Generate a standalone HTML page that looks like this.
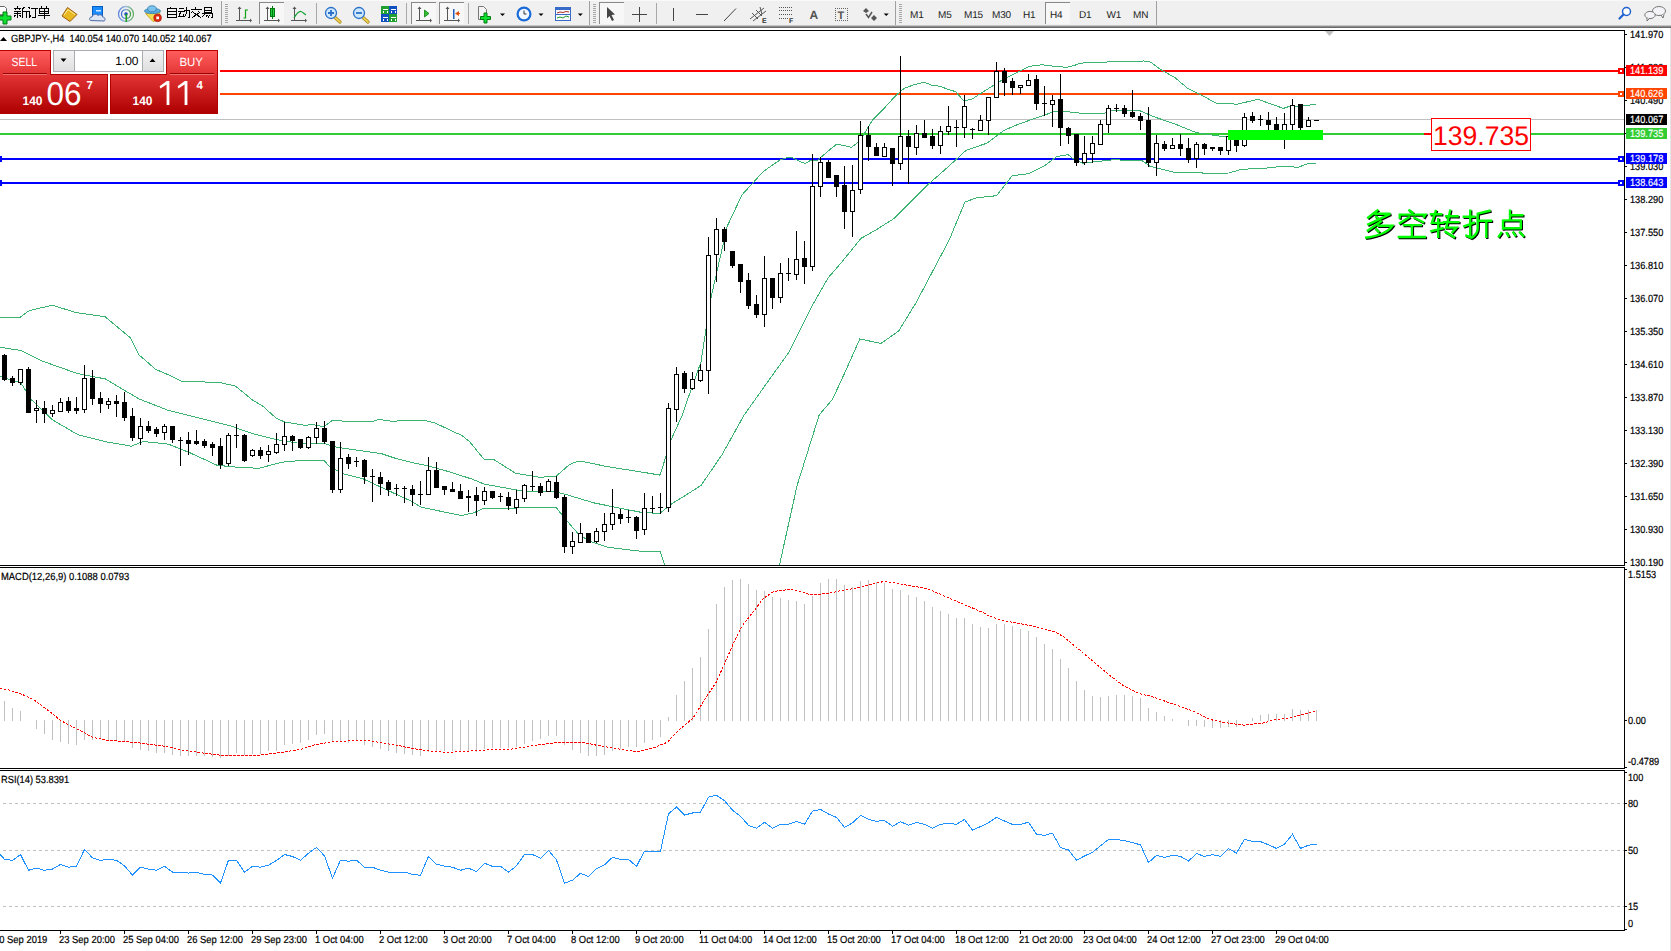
<!DOCTYPE html>
<html><head><meta charset="utf-8"><title>GBPJPY H4</title>
<style>
html,body{margin:0;padding:0;background:#fff;overflow:hidden;}
body{width:1671px;height:951px;position:relative;font-family:"Liberation Sans", sans-serif;}
svg{position:absolute;left:0;top:0;display:block;}
text{font-family:"Liberation Sans", sans-serif;text-rendering:geometricPrecision;}
</style></head><body>
<svg width="1671" height="951" viewBox="0 0 1671 951">
<rect x="0" y="0" width="1671" height="951" fill="#ffffff"/>

<g id="toolbar">
<rect x="0" y="0" width="1671" height="25" fill="#f0f0f0"/>
<rect x="0" y="0" width="1671" height="1" fill="#f9f9f9"/>
<rect x="0" y="25" width="1671" height="1" fill="#c4c4c4"/>
<rect x="0" y="26" width="1671" height="1" fill="#8c8c8c"/>
<rect x="0" y="27" width="1671" height="1" fill="#6a6a6a"/>
<g id="tbicons">
<!-- new order -->
<path d="M-1,6.5 H4.5 L6.5,8.5 V15.5 H-1 Z" fill="#fff" stroke="#666" stroke-width="1"/>
<rect x="0" y="14" width="3" height="1" fill="#888"/>
<path d="M3,12 H7 V16 H11 V20 H7 V24 H3 V20 H-1 V16 H3 Z" fill="#10e030" stroke="#007a10" stroke-width="1"/>
<!-- 新订单 -->
<g stroke="#000" stroke-width="1" fill="none" shape-rendering="crispEdges">
<path d="M17.5,6 V8 M14,8.5 H21 M15.5,9 V10 M19.5,9 V10 M14,11.5 H21 M14,13.5 H21 M17.5,11 V18 M15.5,15 L14,17 M19.5,15 L21,17"/>
<path d="M25,7.5 L22,8.5 M22.5,8.5 V18 M22.5,11.5 H28.5 M26.5,11.5 V18"/>
<path d="M28.5,7 L30,8.5 M29.5,10.5 V17 L31,15.5 M31,8.5 H38 M35.5,8.5 V17.5 H32"/>
<path d="M41,6 L42,7.5 M47,6 L46,7.5 M39.5,8.5 H48.5 V13.5 H39.5 Z M39.5,11 H48.5 M44,8.5 V18.5 M38,15.5 H50"/>
</g>
<!-- book -->
<path d="M62,16 L67.5,7.5 L77,14.5 L70,21.5 Z" fill="#e8b820" stroke="#9a5a10" stroke-width="1"/>
<path d="M64,15 L68,9.5 L75,14.5" fill="none" stroke="#fff2a0" stroke-width="1"/>
<!-- cloud box -->
<rect x="92.5" y="6.5" width="10" height="9" fill="#1a8cff" stroke="#0060c0" stroke-width="1"/>
<rect x="96" y="10" width="5" height="1.5" fill="#cfe8ff"/>
<path d="M90.5,20.5 C89,20 89.5,16.5 92,17 C92.5,14 96.5,13.5 98,15.5 C99.5,14 103,15 102.5,17 C105,16.5 106,20.5 104,21 Z" fill="#dde5f2" stroke="#4a6aa8" stroke-width="1"/>
<!-- signal -->
<defs><linearGradient id="gSig" x1="0" y1="0" x2="1" y2="0"><stop offset="0" stop-color="#3a6ad8"/><stop offset="0.5" stop-color="#8fb0d8"/><stop offset="1" stop-color="#40a040"/></linearGradient></defs>
<circle cx="126" cy="14" r="7.5" fill="none" stroke="url(#gSig)" stroke-width="1.3" opacity="0.8"/>
<circle cx="126" cy="14" r="4.5" fill="none" stroke="url(#gSig)" stroke-width="1.3"/>
<circle cx="126" cy="14" r="1.8" fill="#2050c0"/>
<rect x="125.5" y="14" width="1.6" height="8" fill="#20a020"/>
<!-- auto trading -->
<path d="M145.5,13.5 L160,12.5 L158,20 L153,21.5 Z" fill="#f2dc50" stroke="#c8a020" stroke-width="0.9"/>
<ellipse cx="152.5" cy="11" rx="8" ry="2.6" fill="#5aaee0" stroke="#3a84b8" stroke-width="0.9"/>
<ellipse cx="152" cy="8.8" rx="4.3" ry="3" fill="#7cc4ec" stroke="#3a84b8" stroke-width="0.9"/>
<circle cx="157.6" cy="17.8" r="3.9" fill="#dd2a10" stroke="#a01808" stroke-width="0.6"/>
<rect x="156.3" y="16.5" width="2.7" height="2.7" fill="#fff"/>
<!-- 自动交易 -->
<g stroke="#000" stroke-width="1" fill="none" shape-rendering="crispEdges">
<path d="M170.5,6.5 V8 M167.5,8.5 H176.5 V17.5 H167.5 Z M167.5,11.5 H176.5 M167.5,14.5 H176.5"/>
<path d="M179,8.5 H184 M178,11.5 H184.5 M180.5,12 L179,16.5 H184 M183,14.5 L184,16 M184,10.5 H189.5 V17.5 H188 M186.5,7 V13 L184.5,17.5"/>
<path d="M195.5,6.5 V8.5 M190.5,9.5 H201.5 M193,11 L191.5,13 M198,11 L200,13 M192,17.5 L200,12.5 M193,12.5 L201,17.5"/>
<path d="M204,7.5 H211 V12.5 H204 Z M204,10 H211 M202,13.5 H212.5 V17.5 H211 M204.5,14 L202.5,17 M207.5,15 L205.5,17.5 M210,15 L208,17.5"/>
</g>
<!-- separators & grips -->
<g shape-rendering="crispEdges">
<rect x="221" y="1" width="1" height="24" fill="#a0a0a0"/>
<rect x="406" y="3" width="1" height="21" fill="#a8a8a8"/>
<rect x="316" y="3" width="1" height="21" fill="#a8a8a8"/>
<rect x="468" y="3" width="1" height="21" fill="#a8a8a8"/>
<rect x="589" y="1" width="1" height="24" fill="#a0a0a0"/>
<rect x="656" y="3" width="1" height="21" fill="#a8a8a8"/>
<rect x="895" y="1" width="1" height="24" fill="#a0a0a0"/>
<rect x="1156" y="1" width="1" height="24" fill="#a0a0a0"/>
</g>
<g fill="#a8a8a8" shape-rendering="crispEdges">
<path d="M225,4h3v1h-3zM225,6h3v1h-3zM225,8h3v1h-3zM225,10h3v1h-3zM225,12h3v1h-3zM225,14h3v1h-3zM225,16h3v1h-3zM225,18h3v1h-3zM225,20h3v1h-3zM225,22h3v1h-3z"/>
<path d="M593,4h3v1h-3zM593,6h3v1h-3zM593,8h3v1h-3zM593,10h3v1h-3zM593,12h3v1h-3zM593,14h3v1h-3zM593,16h3v1h-3zM593,18h3v1h-3zM593,20h3v1h-3zM593,22h3v1h-3z"/>
<path d="M899,4h3v1h-3zM899,6h3v1h-3zM899,8h3v1h-3zM899,10h3v1h-3zM899,12h3v1h-3zM899,14h3v1h-3zM899,16h3v1h-3zM899,18h3v1h-3zM899,20h3v1h-3zM899,22h3v1h-3z"/>
</g>
<!-- pressed buttons -->
<g shape-rendering="crispEdges">
<rect x="259" y="2" width="25" height="22" fill="#f7f7f7"/><rect x="259" y="2" width="25" height="1" fill="#8a8a8a"/><rect x="259" y="2" width="1" height="22" fill="#8a8a8a"/>
<rect x="411" y="2" width="25" height="22" fill="#f7f7f7"/><rect x="411" y="2" width="25" height="1" fill="#8a8a8a"/><rect x="411" y="2" width="1" height="22" fill="#8a8a8a"/>
<rect x="439" y="2" width="25" height="22" fill="#f7f7f7"/><rect x="439" y="2" width="25" height="1" fill="#8a8a8a"/><rect x="439" y="2" width="1" height="22" fill="#8a8a8a"/>
<rect x="599" y="2" width="25" height="22" fill="#f7f7f7"/><rect x="599" y="2" width="25" height="1" fill="#8a8a8a"/><rect x="599" y="2" width="1" height="22" fill="#8a8a8a"/>
<rect x="1045" y="2" width="25" height="22" fill="#f7f7f7"/><rect x="1045" y="2" width="25" height="1" fill="#8a8a8a"/><rect x="1045" y="2" width="1" height="22" fill="#8a8a8a"/>
</g>
<!-- chart type icons -->
<g fill="none" stroke="#555" stroke-width="1" shape-rendering="crispEdges">
<path d="M239.5,8 V21 M236,20.5 H251 M294.5,8 V21 M291,20.5 H306 M267.5,8 V21 M264,20.5 H279"/>
<path d="M419.5,8 V21 M416,20.5 H431 M447.5,8 V21 M444,20.5 H459"/>
</g>
<g fill="#555"><path d="M237.5,9 L239.5,6.5 L241.5,9Z M250,18.5 L252,20.5 L250,22.5Z M265.5,9 L267.5,6.5 L269.5,9Z M278,18.5 L280,20.5 L278,22.5Z M292.5,9 L294.5,6.5 L296.5,9Z M305,18.5 L307,20.5 L305,22.5Z M417.5,9 L419.5,6.5 L421.5,9Z M430,18.5 L432,20.5 L430,22.5Z M445.5,9 L447.5,6.5 L449.5,9Z M458,18.5 L460,20.5 L458,22.5Z"/></g>
<path d="M243.5,18 H245.5 V10 H248" fill="none" stroke="#10a010" stroke-width="1.2"/>
<rect x="270.5" y="8.5" width="4" height="8" fill="#20d040" stroke="#007a10" stroke-width="1"/>
<rect x="272" y="6" width="1" height="13" fill="#007a10"/>
<path d="M294,18 C297,13 299,11 301,11.5 C303,12 304,14 306,15" fill="none" stroke="#10a030" stroke-width="1.2"/>
<path d="M424.5,10 L429,13.5 L424.5,17 Z" fill="#30c030" stroke="#108010" stroke-width="0.8"/>
<rect x="453" y="9" width="1.5" height="10" fill="#2060c0"/>
<path d="M455,13.5 L459,11 V16 Z M457,13 H460 V14 H457Z" fill="#e05010"/>
<!-- zoom in/out -->
<g>
<path d="M335,17.5 L340,22" stroke="#a08010" stroke-width="3.2" stroke-linecap="round"/>
<path d="M335,17.5 L340,22" stroke="#f0d050" stroke-width="1.8" stroke-linecap="round"/>
<circle cx="331" cy="13" r="5.5" fill="#cfe8ff" stroke="#2a70c8" stroke-width="1.3"/>
<path d="M328,13 H334 M331,10 V16" stroke="#2a70c8" stroke-width="1.8"/>
<path d="M363,17.5 L368,22" stroke="#a08010" stroke-width="3.2" stroke-linecap="round"/>
<path d="M363,17.5 L368,22" stroke="#f0d050" stroke-width="1.8" stroke-linecap="round"/>
<circle cx="359" cy="13" r="5.5" fill="#cfe8ff" stroke="#2a70c8" stroke-width="1.3"/>
<path d="M356,13 H362" stroke="#2a70c8" stroke-width="1.8"/>
</g>
<!-- tile -->
<g shape-rendering="crispEdges">
<rect x="381" y="6" width="8" height="8" fill="#20a030"/><rect x="389" y="6" width="8" height="8" fill="#1050c0"/>
<rect x="381" y="14" width="8" height="8" fill="#1050c0"/><rect x="389" y="14" width="8" height="8" fill="#20a030"/>
<path d="M383,9h5v1h-5zM383,11h1v2h-1zM387,11h1v2h-1zM391,9h5v1h-5zM391,11h1v2h-1zM395,11h1v2h-1zM383,17h5v1h-5zM383,19h1v2h-1zM387,19h1v2h-1zM391,17h5v1h-5zM391,19h1v2h-1zM395,19h1v2h-1z" fill="#fff"/>
</g>
<!-- indicators icon -->
<path d="M478.5,6.5 H483.5 L486.5,9.5 V19.5 H478.5 Z" fill="#f4f4f4" stroke="#777" stroke-width="1"/>
<path d="M484,13 H487 V16.5 H490.5 V19.5 H487 V23 H484 V19.5 H480.5 V16.5 H484 Z" fill="#10e030" stroke="#007a10" stroke-width="1"/>
<polygon points="500,13.5 505,13.5 502.5,16" fill="#000"/>
<!-- clock -->
<circle cx="524" cy="14" r="7.5" fill="#1a6ad8"/>
<circle cx="524" cy="14" r="5.3" fill="#f4f8ff"/>
<path d="M524,10.5 V14 H526.5" fill="none" stroke="#333" stroke-width="1"/>
<polygon points="538.5,13.5 543.5,13.5 541,16" fill="#000"/>
<!-- template -->
<rect x="555.5" y="7.5" width="15" height="13" fill="#f8f8ff" stroke="#3a6ac8" stroke-width="1"/>
<rect x="556" y="8" width="14" height="2" fill="#3a6ac8"/>
<rect x="556" y="14" width="14" height="1" fill="#3a6ac8"/>
<path d="M557,13 L560,12 L563,12.5 L566,11.5 L569,12" fill="none" stroke="#b03020" stroke-width="1"/>
<path d="M557,18 L560,17 L563,18 L566,16 L569,17" fill="none" stroke="#20a020" stroke-width="1"/>
<polygon points="577.8,13.5 582.8,13.5 580.3,16" fill="#000"/>
<!-- cursor -->
<path d="M607,7 L615,14.5 L611.5,15 L614,20 L612,21 L609.5,16 L607,18.5 Z" fill="#444"/>
<!-- crosshair -->
<path d="M632,14.5 H647 M639.5,7 V22" stroke="#444" stroke-width="1" shape-rendering="crispEdges"/>
<!-- lines -->
<rect x="673" y="8" width="1" height="13" fill="#444" shape-rendering="crispEdges"/>
<rect x="696" y="14" width="12" height="1" fill="#444" shape-rendering="crispEdges"/>
<path d="M724,21 L736,8.5" stroke="#444" stroke-width="1"/>
<path d="M750,19 L764,8 M753,21 L766,11 M752,13 L758,19 M756,10 L762,16 M760,7 L762,14" stroke="#555" stroke-width="1" fill="none"/>
<text x="762" y="23" font-size="7" font-weight="bold" fill="#333">E</text>
<g fill="#555" shape-rendering="crispEdges">
<path d="M779,7h1v1h-1zM781,7h1v1h-1zM783,7h1v1h-1zM785,7h1v1h-1zM787,7h1v1h-1zM789,7h1v1h-1zM791,7h1v1h-1zM779,10h1v1h-1zM781,10h1v1h-1zM783,10h1v1h-1zM785,10h1v1h-1zM787,10h1v1h-1zM789,10h1v1h-1zM791,10h1v1h-1zM779,14h1v1h-1zM781,14h1v1h-1zM783,14h1v1h-1zM785,14h1v1h-1zM787,14h1v1h-1zM789,14h1v1h-1zM791,14h1v1h-1zM779,18h1v1h-1zM781,18h1v1h-1zM783,18h1v1h-1zM785,18h1v1h-1zM787,18h1v1h-1z"/>
</g>
<text x="789" y="23" font-size="7" font-weight="bold" fill="#333">F</text>
<text x="809.5" y="19" font-size="12" font-weight="bold" fill="#555">A</text>
<g fill="#666" shape-rendering="crispEdges">
<path d="M835,8h1v1h-1zM837,8h1v1h-1zM839,8h1v1h-1zM841,8h1v1h-1zM843,8h1v1h-1zM845,8h1v1h-1zM847,8h1v1h-1zM835,20h1v1h-1zM837,20h1v1h-1zM839,20h1v1h-1zM841,20h1v1h-1zM843,20h1v1h-1zM845,20h1v1h-1zM847,20h1v1h-1zM835,10h1v1h-1zM835,12h1v1h-1zM835,14h1v1h-1zM835,16h1v1h-1zM835,18h1v1h-1zM847,10h1v1h-1zM847,12h1v1h-1zM847,14h1v1h-1zM847,16h1v1h-1zM847,18h1v1h-1z"/>
</g>
<text x="837.5" y="18.5" font-size="11" font-weight="bold" fill="#555">T</text>
<path d="M863,11 L866,8 L869,11 L866,13 Z M871,18 L874,15 L877,18 L874,21 Z" fill="#555"/>
<path d="M866,14 L868.5,17.5 L872,12" stroke="#555" stroke-width="1.5" fill="none"/>
<polygon points="883.7,13.5 888.8,13.5 886.2,16" fill="#000"/>
</g>
<g font-size="10" fill="#222" letter-spacing="-0.2">
<text x="910" y="18">M1</text>
<text x="938" y="18">M5</text>
<text x="964" y="18">M15</text>
<text x="992" y="18">M30</text>
<text x="1023" y="18">H1</text>
<text x="1050" y="18">H4</text>
<text x="1079" y="18">D1</text>
<text x="1106.5" y="18">W1</text>
<text x="1133" y="18">MN</text>
</g>
<!-- search and chat -->
<circle cx="1626.5" cy="11.5" r="4" fill="#fff" stroke="#2060d0" stroke-width="1.5"/>
<path d="M1623.5,14.5 L1619.5,18.5" stroke="#2060d0" stroke-width="2.2" stroke-linecap="round"/>
<ellipse cx="1659" cy="11" rx="6.5" ry="4.5" fill="#f4f4f8" stroke="#777" stroke-width="1"/>
<path d="M1661,15 L1663,18 L1664,14.5" fill="#f4f4f8" stroke="#555" stroke-width="0.8"/>
<ellipse cx="1650" cy="15" rx="5.2" ry="3.6" fill="#f4f4f8" stroke="#777" stroke-width="1"/>
<path d="M1647,18 L1647,21 L1649.5,18.5" fill="#f4f4f8" stroke="#555" stroke-width="0.8"/>

</g>
<rect x="1670" y="28" width="1" height="923" fill="#e4e4e4"/>
<defs><clipPath id="cm"><rect x="0" y="31" width="1624" height="534"/></clipPath><clipPath id="cmacd"><rect x="0" y="568" width="1624" height="200"/></clipPath><clipPath id="crsi"><rect x="0" y="771" width="1624" height="159"/></clipPath></defs>
<g shape-rendering="crispEdges" fill="#000">
<rect x="0" y="30" width="1625" height="1"/>
<rect x="0" y="565" width="1625" height="1"/>
<rect x="1624" y="30" width="1" height="536"/>
<rect x="0" y="567" width="1625" height="1"/>
<rect x="0" y="768" width="1625" height="1"/>
<rect x="1624" y="567" width="1" height="202"/>
<rect x="0" y="770" width="1625" height="1"/>
<rect x="0" y="930" width="1625" height="1"/>
<rect x="1624" y="770" width="1" height="161"/>
</g>
<g clip-path="url(#cm)">
<g shape-rendering="crispEdges">
<rect x="220" y="70" width="1404" height="2" fill="#ff0000"/>
<rect x="220" y="93" width="1404" height="2" fill="#ff4500"/>
<rect x="0" y="119" width="1624" height="1" fill="#c0c0c0"/>
<rect x="0" y="133" width="1624" height="2" fill="#32cd32"/>
<rect x="0" y="158" width="1624" height="2" fill="#0000ff"/>
<rect x="0" y="182" width="1624" height="2" fill="#0000ff"/>
</g>
<g shape-rendering="crispEdges">
<rect x="1618" y="68" width="6" height="6" fill="#ff0000"/><rect x="1620" y="70" width="2" height="2" fill="#fff"/>
<rect x="1618" y="91" width="6" height="6" fill="#ff4500"/><rect x="1620" y="93" width="2" height="2" fill="#fff"/>
<rect x="1618" y="156" width="6" height="6" fill="#0000ff"/><rect x="1620" y="158" width="2" height="2" fill="#fff"/>
<rect x="-3" y="156" width="5" height="6" fill="#0000ff"/>
<rect x="1618" y="180" width="6" height="6" fill="#0000ff"/><rect x="1620" y="182" width="2" height="2" fill="#fff"/>
<rect x="-3" y="180" width="5" height="6" fill="#0000ff"/>
</g>
<g fill="none" stroke="#3cb371" stroke-width="1" shape-rendering="crispEdges">
<polyline points="-4.0,317.4 0.0,317.4 20.0,317.4 29.4,310.5 52.6,305.2 75.7,312.6 105.2,316.8 130.4,337.8 138.8,354.7 155.7,369.4 170.4,375.7 180.9,381.0 220.9,382.7 235.6,386.2 252.4,399.9 262.9,406.2 276.5,418.5 285.0,422.0 305.0,425.3 313.0,424.6 324.0,426.7 332.5,420.2 351.7,421.9 373.6,421.2 379.6,419.2 385.3,420.5 393.9,421.4 400.7,420.5 424.6,420.5 435.1,423.0 454.3,432.1 462.0,435.5 469.6,441.7 484.0,459.2 493.6,459.4 515.6,473.3 539.0,477.2 555.7,476.6 569.4,464.6 577.6,461.2 583.0,461.6 607.7,466.7 642.0,472.1 660.0,475.1 665.2,458.7 671.5,438.8 682.0,415.7 690.4,391.5 701.0,362.0 710.5,299.9 727.3,226.0 742.1,194.7 754.7,181.0 763.1,171.6 779.9,160.0 788.3,157.2 792.6,157.9 798.9,161.0 805.2,163.6 809.4,161.0 817.8,160.0 830.0,149.5 836.8,144.1 851.6,147.3 860.0,141.0 872.6,119.9 883.1,109.4 895.7,95.7 904.1,88.4 912.6,85.2 924.1,82.1 931.5,85.2 939.9,86.3 950.0,90.1 955.5,91.5 963.9,101.0 972.3,98.9 987.1,89.4 1003.9,78.9 1018.6,71.6 1029.1,66.3 1041.8,64.8 1054.4,66.3 1067.0,67.3 1075.0,65.2 1080.5,63.1 1103.7,62.1 1143.6,61.0 1149.9,61.7 1160.5,69.4 1175.2,77.9 1187.8,88.4 1196.2,92.6 1201.3,95.1 1216.0,103.1 1237.1,104.2 1258.1,99.3 1283.3,108.4 1289.7,106.3 1300.2,106.3 1316.0,104.2"/>
<polyline points="-4.0,346.5 0.0,347.3 21.0,350.5 42.0,361.0 77.8,373.6 105.2,378.9 138.8,398.8 168.3,410.4 210.3,420.9 231.4,426.2 252.4,433.6 276.5,439.6 297.0,443.0 324.0,443.5 336.7,447.2 365.0,451.3 381.5,453.7 395.9,458.5 413.1,462.8 427.5,465.7 451.4,472.4 473.4,479.6 483.8,484.0 514.0,489.5 528.4,491.7 553.0,491.3 566.7,494.7 594.0,502.9 621.4,508.4 642.0,512.5 660.0,513.4 671.5,503.9 682.0,497.6 701.0,485.5 722.1,454.6 744.2,414.9 766.2,384.0 788.3,353.1 810.4,308.9 828.0,278.0 841.3,262.6 861.1,238.3 876.6,229.5 894.3,218.4 911.9,200.8 929.6,183.1 947.2,167.7 966.0,150.4 987.1,143.1 1003.9,130.4 1018.6,124.1 1039.7,116.8 1054.4,111.5 1062.8,111.1 1075.0,112.6 1080.5,113.2 1103.7,113.6 1112.1,110.5 1139.4,110.5 1154.1,116.8 1175.2,124.1 1196.2,132.6 1216.0,135.7 1245.0,138.4 1280.0,137.0 1316.0,134.0"/>
<polyline points="-4.0,374.0 0.0,376.3 21.0,383.1 31.6,399.9 52.6,419.9 77.8,434.6 107.3,442.0 131.5,446.2 143.0,441.5 168.3,444.1 189.3,452.5 216.7,465.1 231.4,466.8 258.7,468.3 282.0,462.2 304.0,460.2 324.0,460.2 329.8,467.0 343.5,473.8 362.6,478.6 386.0,489.5 411.0,501.1 421.0,507.2 458.0,514.8 462.0,515.4 474.0,512.7 484.0,508.2 514.0,508.2 525.7,507.0 555.7,507.0 566.7,520.7 577.6,533.0 588.6,540.9 607.7,547.3 642.0,551.4 660.0,551.2 668.0,575.0 720.0,640.0 770.0,590.0 779.5,565.0 797.1,485.5 819.2,414.9 832.5,399.4 845.7,370.8 859.8,339.0 881.0,343.4 898.7,331.0 916.3,302.3 938.4,260.4 949.2,240.0 965.0,202.0 976.6,197.8 996.5,195.7 1012.3,175.7 1029.1,173.6 1043.9,166.2 1056.5,156.7 1068.0,154.6 1073.3,158.8 1082.6,163.1 1112.1,159.9 1141.5,160.3 1149.9,166.2 1175.2,172.5 1200.0,172.5 1205.5,173.6 1228.7,173.0 1241.3,169.4 1268.6,167.9 1283.3,166.2 1298.1,167.3 1306.5,164.1 1316.0,163.0"/>
</g>
<g shape-rendering="crispEdges">
<rect x="4" y="354" width="1" height="27" fill="#000"/>
<rect x="2" y="355" width="5" height="25" fill="#000"/>
<rect x="12" y="376" width="1" height="10" fill="#000"/>
<rect x="10" y="378" width="5" height="5" fill="#000"/>
<rect x="20" y="369" width="1" height="16" fill="#000"/>
<rect x="18" y="369" width="5" height="14" fill="#000"/>
<rect x="19" y="370" width="3" height="12" fill="#fff"/>
<rect x="28" y="367" width="1" height="46" fill="#000"/>
<rect x="26" y="369" width="5" height="44" fill="#000"/>
<rect x="36" y="400" width="1" height="23" fill="#000"/>
<rect x="34" y="408" width="5" height="3" fill="#000"/>
<rect x="35" y="409" width="3" height="1" fill="#fff"/>
<rect x="44" y="401" width="1" height="22" fill="#000"/>
<rect x="42" y="408" width="5" height="6" fill="#000"/>
<rect x="52" y="405" width="1" height="12" fill="#000"/>
<rect x="50" y="410" width="5" height="4" fill="#000"/>
<rect x="51" y="411" width="3" height="2" fill="#fff"/>
<rect x="60" y="398" width="1" height="14" fill="#000"/>
<rect x="58" y="402" width="5" height="10" fill="#000"/>
<rect x="59" y="403" width="3" height="8" fill="#fff"/>
<rect x="68" y="397" width="1" height="16" fill="#000"/>
<rect x="66" y="401" width="5" height="10" fill="#000"/>
<rect x="76" y="397" width="1" height="17" fill="#000"/>
<rect x="74" y="408" width="5" height="3" fill="#000"/>
<rect x="84" y="365" width="1" height="48" fill="#000"/>
<rect x="82" y="378" width="5" height="32" fill="#000"/>
<rect x="83" y="379" width="3" height="30" fill="#fff"/>
<rect x="92" y="370" width="1" height="35" fill="#000"/>
<rect x="90" y="378" width="5" height="21" fill="#000"/>
<rect x="100" y="392" width="1" height="21" fill="#000"/>
<rect x="98" y="398" width="5" height="6" fill="#000"/>
<rect x="108" y="398" width="1" height="11" fill="#000"/>
<rect x="106" y="401" width="5" height="4" fill="#000"/>
<rect x="107" y="402" width="3" height="2" fill="#fff"/>
<rect x="116" y="395" width="1" height="22" fill="#000"/>
<rect x="114" y="401" width="5" height="3" fill="#000"/>
<rect x="124" y="392" width="1" height="29" fill="#000"/>
<rect x="122" y="402" width="5" height="16" fill="#000"/>
<rect x="132" y="408" width="1" height="33" fill="#000"/>
<rect x="130" y="416" width="5" height="22" fill="#000"/>
<rect x="140" y="418" width="1" height="27" fill="#000"/>
<rect x="138" y="426" width="5" height="13" fill="#000"/>
<rect x="139" y="427" width="3" height="11" fill="#fff"/>
<rect x="148" y="421" width="1" height="12" fill="#000"/>
<rect x="146" y="426" width="5" height="5" fill="#000"/>
<rect x="156" y="427" width="1" height="10" fill="#000"/>
<rect x="154" y="429" width="5" height="5" fill="#000"/>
<rect x="164" y="424" width="1" height="16" fill="#000"/>
<rect x="162" y="426" width="5" height="7" fill="#000"/>
<rect x="163" y="427" width="3" height="5" fill="#fff"/>
<rect x="172" y="426" width="1" height="17" fill="#000"/>
<rect x="170" y="426" width="5" height="14" fill="#000"/>
<rect x="180" y="437" width="1" height="29" fill="#000"/>
<rect x="178" y="440" width="5" height="1" fill="#000"/>
<rect x="188" y="432" width="1" height="23" fill="#000"/>
<rect x="186" y="440" width="5" height="4" fill="#000"/>
<rect x="196" y="430" width="1" height="15" fill="#000"/>
<rect x="194" y="441" width="5" height="3" fill="#000"/>
<rect x="204" y="439" width="1" height="9" fill="#000"/>
<rect x="202" y="441" width="5" height="5" fill="#000"/>
<rect x="212" y="442" width="1" height="14" fill="#000"/>
<rect x="210" y="444" width="5" height="4" fill="#000"/>
<rect x="220" y="438" width="1" height="31" fill="#000"/>
<rect x="218" y="446" width="5" height="19" fill="#000"/>
<rect x="228" y="433" width="1" height="33" fill="#000"/>
<rect x="226" y="435" width="5" height="29" fill="#000"/>
<rect x="227" y="436" width="3" height="27" fill="#fff"/>
<rect x="236" y="424" width="1" height="24" fill="#000"/>
<rect x="234" y="435" width="5" height="1" fill="#000"/>
<rect x="244" y="434" width="1" height="28" fill="#000"/>
<rect x="242" y="435" width="5" height="26" fill="#000"/>
<rect x="252" y="449" width="1" height="8" fill="#000"/>
<rect x="250" y="450" width="5" height="6" fill="#000"/>
<rect x="251" y="451" width="3" height="4" fill="#fff"/>
<rect x="260" y="447" width="1" height="12" fill="#000"/>
<rect x="258" y="450" width="5" height="6" fill="#000"/>
<rect x="268" y="445" width="1" height="17" fill="#000"/>
<rect x="266" y="451" width="5" height="4" fill="#000"/>
<rect x="267" y="452" width="3" height="2" fill="#fff"/>
<rect x="276" y="433" width="1" height="21" fill="#000"/>
<rect x="274" y="444" width="5" height="9" fill="#000"/>
<rect x="275" y="445" width="3" height="7" fill="#fff"/>
<rect x="284" y="422" width="1" height="29" fill="#000"/>
<rect x="282" y="436" width="5" height="9" fill="#000"/>
<rect x="283" y="437" width="3" height="7" fill="#fff"/>
<rect x="292" y="435" width="1" height="16" fill="#000"/>
<rect x="290" y="436" width="5" height="5" fill="#000"/>
<rect x="300" y="439" width="1" height="10" fill="#000"/>
<rect x="298" y="439" width="5" height="9" fill="#000"/>
<rect x="308" y="436" width="1" height="13" fill="#000"/>
<rect x="306" y="437" width="5" height="11" fill="#000"/>
<rect x="307" y="438" width="3" height="9" fill="#fff"/>
<rect x="316" y="422" width="1" height="22" fill="#000"/>
<rect x="314" y="428" width="5" height="10" fill="#000"/>
<rect x="315" y="429" width="3" height="8" fill="#fff"/>
<rect x="324" y="421" width="1" height="23" fill="#000"/>
<rect x="322" y="428" width="5" height="14" fill="#000"/>
<rect x="332" y="441" width="1" height="52" fill="#000"/>
<rect x="330" y="441" width="5" height="49" fill="#000"/>
<rect x="340" y="442" width="1" height="51" fill="#000"/>
<rect x="338" y="458" width="5" height="32" fill="#000"/>
<rect x="339" y="459" width="3" height="30" fill="#fff"/>
<rect x="348" y="454" width="1" height="15" fill="#000"/>
<rect x="346" y="457" width="5" height="7" fill="#000"/>
<rect x="356" y="457" width="1" height="10" fill="#000"/>
<rect x="354" y="461" width="5" height="1" fill="#000"/>
<rect x="364" y="459" width="1" height="25" fill="#000"/>
<rect x="362" y="460" width="5" height="17" fill="#000"/>
<rect x="372" y="469" width="1" height="33" fill="#000"/>
<rect x="370" y="476" width="5" height="1" fill="#000"/>
<rect x="380" y="472" width="1" height="23" fill="#000"/>
<rect x="378" y="477" width="5" height="7" fill="#000"/>
<rect x="388" y="480" width="1" height="16" fill="#000"/>
<rect x="386" y="482" width="5" height="8" fill="#000"/>
<rect x="396" y="484" width="1" height="12" fill="#000"/>
<rect x="394" y="488" width="5" height="1" fill="#000"/>
<rect x="404" y="486" width="1" height="17" fill="#000"/>
<rect x="402" y="488" width="5" height="1" fill="#000"/>
<rect x="412" y="485" width="1" height="21" fill="#000"/>
<rect x="410" y="489" width="5" height="6" fill="#000"/>
<rect x="420" y="481" width="1" height="24" fill="#000"/>
<rect x="418" y="494" width="5" height="1" fill="#000"/>
<rect x="428" y="457" width="1" height="38" fill="#000"/>
<rect x="426" y="470" width="5" height="25" fill="#000"/>
<rect x="427" y="471" width="3" height="23" fill="#fff"/>
<rect x="436" y="462" width="1" height="26" fill="#000"/>
<rect x="434" y="470" width="5" height="18" fill="#000"/>
<rect x="444" y="486" width="1" height="9" fill="#000"/>
<rect x="442" y="486" width="5" height="4" fill="#000"/>
<rect x="452" y="482" width="1" height="10" fill="#000"/>
<rect x="450" y="489" width="5" height="3" fill="#000"/>
<rect x="460" y="484" width="1" height="15" fill="#000"/>
<rect x="458" y="491" width="5" height="8" fill="#000"/>
<rect x="468" y="490" width="1" height="22" fill="#000"/>
<rect x="466" y="496" width="5" height="2" fill="#000"/>
<rect x="476" y="487" width="1" height="29" fill="#000"/>
<rect x="474" y="495" width="5" height="6" fill="#000"/>
<rect x="484" y="487" width="1" height="18" fill="#000"/>
<rect x="482" y="491" width="5" height="10" fill="#000"/>
<rect x="483" y="492" width="3" height="8" fill="#fff"/>
<rect x="492" y="491" width="1" height="8" fill="#000"/>
<rect x="490" y="491" width="5" height="7" fill="#000"/>
<rect x="500" y="493" width="1" height="9" fill="#000"/>
<rect x="498" y="496" width="5" height="1" fill="#000"/>
<rect x="508" y="492" width="1" height="18" fill="#000"/>
<rect x="506" y="497" width="5" height="9" fill="#000"/>
<rect x="516" y="490" width="1" height="24" fill="#000"/>
<rect x="514" y="499" width="5" height="9" fill="#000"/>
<rect x="515" y="500" width="3" height="7" fill="#fff"/>
<rect x="524" y="484" width="1" height="18" fill="#000"/>
<rect x="522" y="485" width="5" height="14" fill="#000"/>
<rect x="523" y="486" width="3" height="12" fill="#fff"/>
<rect x="532" y="471" width="1" height="20" fill="#000"/>
<rect x="530" y="486" width="5" height="1" fill="#000"/>
<rect x="540" y="483" width="1" height="13" fill="#000"/>
<rect x="538" y="486" width="5" height="7" fill="#000"/>
<rect x="548" y="479" width="1" height="13" fill="#000"/>
<rect x="546" y="481" width="5" height="11" fill="#000"/>
<rect x="547" y="482" width="3" height="9" fill="#fff"/>
<rect x="556" y="476" width="1" height="23" fill="#000"/>
<rect x="554" y="482" width="5" height="16" fill="#000"/>
<rect x="564" y="495" width="1" height="58" fill="#000"/>
<rect x="562" y="497" width="5" height="50" fill="#000"/>
<rect x="572" y="532" width="1" height="22" fill="#000"/>
<rect x="570" y="541" width="5" height="6" fill="#000"/>
<rect x="571" y="542" width="3" height="4" fill="#fff"/>
<rect x="580" y="523" width="1" height="20" fill="#000"/>
<rect x="578" y="533" width="5" height="10" fill="#000"/>
<rect x="579" y="534" width="3" height="8" fill="#fff"/>
<rect x="588" y="533" width="1" height="10" fill="#000"/>
<rect x="586" y="533" width="5" height="10" fill="#000"/>
<rect x="596" y="528" width="1" height="15" fill="#000"/>
<rect x="594" y="531" width="5" height="11" fill="#000"/>
<rect x="595" y="532" width="3" height="9" fill="#fff"/>
<rect x="604" y="513" width="1" height="28" fill="#000"/>
<rect x="602" y="524" width="5" height="8" fill="#000"/>
<rect x="603" y="525" width="3" height="6" fill="#fff"/>
<rect x="612" y="489" width="1" height="41" fill="#000"/>
<rect x="610" y="513" width="5" height="12" fill="#000"/>
<rect x="611" y="514" width="3" height="10" fill="#fff"/>
<rect x="620" y="509" width="1" height="15" fill="#000"/>
<rect x="618" y="514" width="5" height="5" fill="#000"/>
<rect x="628" y="510" width="1" height="13" fill="#000"/>
<rect x="626" y="517" width="5" height="1" fill="#000"/>
<rect x="636" y="516" width="1" height="23" fill="#000"/>
<rect x="634" y="517" width="5" height="14" fill="#000"/>
<rect x="644" y="493" width="1" height="42" fill="#000"/>
<rect x="642" y="508" width="5" height="22" fill="#000"/>
<rect x="643" y="509" width="3" height="20" fill="#fff"/>
<rect x="652" y="496" width="1" height="17" fill="#000"/>
<rect x="650" y="508" width="5" height="1" fill="#000"/>
<rect x="660" y="493" width="1" height="21" fill="#000"/>
<rect x="658" y="507" width="5" height="1" fill="#000"/>
<rect x="668" y="403" width="1" height="109" fill="#000"/>
<rect x="666" y="408" width="5" height="100" fill="#000"/>
<rect x="667" y="409" width="3" height="98" fill="#fff"/>
<rect x="676" y="367" width="1" height="55" fill="#000"/>
<rect x="674" y="374" width="5" height="36" fill="#000"/>
<rect x="675" y="375" width="3" height="34" fill="#fff"/>
<rect x="684" y="371" width="1" height="22" fill="#000"/>
<rect x="682" y="373" width="5" height="16" fill="#000"/>
<rect x="692" y="372" width="1" height="18" fill="#000"/>
<rect x="690" y="379" width="5" height="10" fill="#000"/>
<rect x="691" y="380" width="3" height="8" fill="#fff"/>
<rect x="700" y="364" width="1" height="18" fill="#000"/>
<rect x="698" y="370" width="5" height="11" fill="#000"/>
<rect x="699" y="371" width="3" height="9" fill="#fff"/>
<rect x="708" y="237" width="1" height="157" fill="#000"/>
<rect x="706" y="255" width="5" height="116" fill="#000"/>
<rect x="707" y="256" width="3" height="114" fill="#fff"/>
<rect x="716" y="218" width="1" height="64" fill="#000"/>
<rect x="714" y="229" width="5" height="26" fill="#000"/>
<rect x="715" y="230" width="3" height="24" fill="#fff"/>
<rect x="724" y="227" width="1" height="24" fill="#000"/>
<rect x="722" y="229" width="5" height="13" fill="#000"/>
<rect x="732" y="251" width="1" height="17" fill="#000"/>
<rect x="730" y="251" width="5" height="15" fill="#000"/>
<rect x="740" y="264" width="1" height="29" fill="#000"/>
<rect x="738" y="264" width="5" height="18" fill="#000"/>
<rect x="748" y="273" width="1" height="36" fill="#000"/>
<rect x="746" y="280" width="5" height="26" fill="#000"/>
<rect x="756" y="295" width="1" height="23" fill="#000"/>
<rect x="754" y="304" width="5" height="11" fill="#000"/>
<rect x="764" y="256" width="1" height="71" fill="#000"/>
<rect x="762" y="278" width="5" height="37" fill="#000"/>
<rect x="763" y="279" width="3" height="35" fill="#fff"/>
<rect x="772" y="278" width="1" height="31" fill="#000"/>
<rect x="770" y="278" width="5" height="20" fill="#000"/>
<rect x="780" y="263" width="1" height="40" fill="#000"/>
<rect x="778" y="273" width="5" height="25" fill="#000"/>
<rect x="779" y="274" width="3" height="23" fill="#fff"/>
<rect x="788" y="258" width="1" height="23" fill="#000"/>
<rect x="786" y="273" width="5" height="1" fill="#000"/>
<rect x="796" y="231" width="1" height="49" fill="#000"/>
<rect x="794" y="259" width="5" height="16" fill="#000"/>
<rect x="795" y="260" width="3" height="14" fill="#fff"/>
<rect x="804" y="241" width="1" height="43" fill="#000"/>
<rect x="802" y="258" width="5" height="9" fill="#000"/>
<rect x="812" y="154" width="1" height="117" fill="#000"/>
<rect x="810" y="186" width="5" height="81" fill="#000"/>
<rect x="811" y="187" width="3" height="79" fill="#fff"/>
<rect x="820" y="157" width="1" height="40" fill="#000"/>
<rect x="818" y="162" width="5" height="25" fill="#000"/>
<rect x="819" y="163" width="3" height="23" fill="#fff"/>
<rect x="828" y="160" width="1" height="18" fill="#000"/>
<rect x="826" y="162" width="5" height="16" fill="#000"/>
<rect x="836" y="175" width="1" height="22" fill="#000"/>
<rect x="834" y="175" width="5" height="12" fill="#000"/>
<rect x="844" y="166" width="1" height="63" fill="#000"/>
<rect x="842" y="185" width="5" height="27" fill="#000"/>
<rect x="852" y="165" width="1" height="72" fill="#000"/>
<rect x="850" y="190" width="5" height="22" fill="#000"/>
<rect x="851" y="191" width="3" height="20" fill="#fff"/>
<rect x="860" y="121" width="1" height="73" fill="#000"/>
<rect x="858" y="135" width="5" height="55" fill="#000"/>
<rect x="859" y="136" width="3" height="53" fill="#fff"/>
<rect x="868" y="126" width="1" height="35" fill="#000"/>
<rect x="866" y="135" width="5" height="12" fill="#000"/>
<rect x="876" y="143" width="1" height="13" fill="#000"/>
<rect x="874" y="147" width="5" height="9" fill="#000"/>
<rect x="884" y="143" width="1" height="14" fill="#000"/>
<rect x="882" y="147" width="5" height="10" fill="#000"/>
<rect x="883" y="148" width="3" height="8" fill="#fff"/>
<rect x="892" y="148" width="1" height="38" fill="#000"/>
<rect x="890" y="148" width="5" height="16" fill="#000"/>
<rect x="900" y="56" width="1" height="114" fill="#000"/>
<rect x="898" y="136" width="5" height="28" fill="#000"/>
<rect x="899" y="137" width="3" height="26" fill="#fff"/>
<rect x="908" y="130" width="1" height="54" fill="#000"/>
<rect x="906" y="136" width="5" height="11" fill="#000"/>
<rect x="916" y="125" width="1" height="30" fill="#000"/>
<rect x="914" y="133" width="5" height="15" fill="#000"/>
<rect x="915" y="134" width="3" height="13" fill="#fff"/>
<rect x="924" y="120" width="1" height="18" fill="#000"/>
<rect x="922" y="133" width="5" height="5" fill="#000"/>
<rect x="932" y="129" width="1" height="20" fill="#000"/>
<rect x="930" y="136" width="5" height="10" fill="#000"/>
<rect x="940" y="126" width="1" height="28" fill="#000"/>
<rect x="938" y="131" width="5" height="15" fill="#000"/>
<rect x="939" y="132" width="3" height="13" fill="#fff"/>
<rect x="948" y="106" width="1" height="29" fill="#000"/>
<rect x="946" y="126" width="5" height="6" fill="#000"/>
<rect x="947" y="127" width="3" height="4" fill="#fff"/>
<rect x="956" y="120" width="1" height="27" fill="#000"/>
<rect x="954" y="127" width="5" height="1" fill="#000"/>
<rect x="964" y="95" width="1" height="43" fill="#000"/>
<rect x="962" y="106" width="5" height="22" fill="#000"/>
<rect x="963" y="107" width="3" height="20" fill="#fff"/>
<rect x="972" y="128" width="1" height="11" fill="#000"/>
<rect x="970" y="129" width="5" height="1" fill="#000"/>
<rect x="980" y="115" width="1" height="16" fill="#000"/>
<rect x="978" y="120" width="5" height="11" fill="#000"/>
<rect x="979" y="121" width="3" height="9" fill="#fff"/>
<rect x="988" y="97" width="1" height="38" fill="#000"/>
<rect x="986" y="97" width="5" height="24" fill="#000"/>
<rect x="987" y="98" width="3" height="22" fill="#fff"/>
<rect x="996" y="62" width="1" height="36" fill="#000"/>
<rect x="994" y="71" width="5" height="27" fill="#000"/>
<rect x="995" y="72" width="3" height="25" fill="#fff"/>
<rect x="1004" y="68" width="1" height="28" fill="#000"/>
<rect x="1002" y="71" width="5" height="12" fill="#000"/>
<rect x="1012" y="78" width="1" height="17" fill="#000"/>
<rect x="1010" y="81" width="5" height="7" fill="#000"/>
<rect x="1020" y="85" width="1" height="9" fill="#000"/>
<rect x="1018" y="85" width="5" height="3" fill="#000"/>
<rect x="1019" y="86" width="3" height="1" fill="#fff"/>
<rect x="1028" y="74" width="1" height="12" fill="#000"/>
<rect x="1026" y="80" width="5" height="6" fill="#000"/>
<rect x="1027" y="81" width="3" height="4" fill="#fff"/>
<rect x="1036" y="75" width="1" height="35" fill="#000"/>
<rect x="1034" y="79" width="5" height="25" fill="#000"/>
<rect x="1044" y="86" width="1" height="30" fill="#000"/>
<rect x="1042" y="103" width="5" height="1" fill="#000"/>
<rect x="1052" y="95" width="1" height="32" fill="#000"/>
<rect x="1050" y="100" width="5" height="5" fill="#000"/>
<rect x="1051" y="101" width="3" height="3" fill="#fff"/>
<rect x="1060" y="74" width="1" height="72" fill="#000"/>
<rect x="1058" y="99" width="5" height="29" fill="#000"/>
<rect x="1068" y="127" width="1" height="17" fill="#000"/>
<rect x="1066" y="128" width="5" height="8" fill="#000"/>
<rect x="1076" y="134" width="1" height="32" fill="#000"/>
<rect x="1074" y="134" width="5" height="29" fill="#000"/>
<rect x="1084" y="136" width="1" height="29" fill="#000"/>
<rect x="1082" y="153" width="5" height="10" fill="#000"/>
<rect x="1083" y="154" width="3" height="8" fill="#fff"/>
<rect x="1092" y="136" width="1" height="27" fill="#000"/>
<rect x="1090" y="143" width="5" height="11" fill="#000"/>
<rect x="1091" y="144" width="3" height="9" fill="#fff"/>
<rect x="1100" y="120" width="1" height="25" fill="#000"/>
<rect x="1098" y="124" width="5" height="21" fill="#000"/>
<rect x="1099" y="125" width="3" height="19" fill="#fff"/>
<rect x="1108" y="105" width="1" height="28" fill="#000"/>
<rect x="1106" y="108" width="5" height="17" fill="#000"/>
<rect x="1107" y="109" width="3" height="15" fill="#fff"/>
<rect x="1116" y="104" width="1" height="8" fill="#000"/>
<rect x="1114" y="108" width="5" height="1" fill="#000"/>
<rect x="1124" y="105" width="1" height="12" fill="#000"/>
<rect x="1122" y="108" width="5" height="6" fill="#000"/>
<rect x="1132" y="90" width="1" height="28" fill="#000"/>
<rect x="1130" y="112" width="5" height="5" fill="#000"/>
<rect x="1140" y="113" width="1" height="17" fill="#000"/>
<rect x="1138" y="116" width="5" height="5" fill="#000"/>
<rect x="1148" y="107" width="1" height="60" fill="#000"/>
<rect x="1146" y="120" width="5" height="43" fill="#000"/>
<rect x="1156" y="135" width="1" height="41" fill="#000"/>
<rect x="1154" y="143" width="5" height="20" fill="#000"/>
<rect x="1155" y="144" width="3" height="18" fill="#fff"/>
<rect x="1164" y="141" width="1" height="10" fill="#000"/>
<rect x="1162" y="144" width="5" height="5" fill="#000"/>
<rect x="1172" y="138" width="1" height="11" fill="#000"/>
<rect x="1170" y="145" width="5" height="4" fill="#000"/>
<rect x="1171" y="146" width="3" height="2" fill="#fff"/>
<rect x="1180" y="134" width="1" height="22" fill="#000"/>
<rect x="1178" y="144" width="5" height="5" fill="#000"/>
<rect x="1188" y="138" width="1" height="25" fill="#000"/>
<rect x="1186" y="148" width="5" height="12" fill="#000"/>
<rect x="1196" y="142" width="1" height="26" fill="#000"/>
<rect x="1194" y="144" width="5" height="15" fill="#000"/>
<rect x="1195" y="145" width="3" height="13" fill="#fff"/>
<rect x="1204" y="143" width="1" height="12" fill="#000"/>
<rect x="1202" y="144" width="5" height="5" fill="#000"/>
<rect x="1212" y="147" width="1" height="4" fill="#000"/>
<rect x="1210" y="147" width="5" height="2" fill="#000"/>
<rect x="1220" y="147" width="1" height="8" fill="#000"/>
<rect x="1218" y="147" width="5" height="4" fill="#000"/>
<rect x="1228" y="136" width="1" height="19" fill="#000"/>
<rect x="1226" y="136" width="5" height="15" fill="#000"/>
<rect x="1227" y="137" width="3" height="13" fill="#fff"/>
<rect x="1236" y="135" width="1" height="17" fill="#000"/>
<rect x="1234" y="139" width="5" height="7" fill="#000"/>
<rect x="1244" y="113" width="1" height="34" fill="#000"/>
<rect x="1242" y="117" width="5" height="29" fill="#000"/>
<rect x="1243" y="118" width="3" height="27" fill="#fff"/>
<rect x="1252" y="112" width="1" height="11" fill="#000"/>
<rect x="1250" y="116" width="5" height="5" fill="#000"/>
<rect x="1260" y="115" width="1" height="11" fill="#000"/>
<rect x="1258" y="119" width="5" height="1" fill="#000"/>
<rect x="1268" y="112" width="1" height="19" fill="#000"/>
<rect x="1266" y="120" width="5" height="5" fill="#000"/>
<rect x="1276" y="117" width="1" height="14" fill="#000"/>
<rect x="1274" y="124" width="5" height="7" fill="#000"/>
<rect x="1284" y="113" width="1" height="36" fill="#000"/>
<rect x="1282" y="124" width="5" height="11" fill="#000"/>
<rect x="1283" y="125" width="3" height="9" fill="#fff"/>
<rect x="1292" y="99" width="1" height="32" fill="#000"/>
<rect x="1290" y="105" width="5" height="20" fill="#000"/>
<rect x="1291" y="106" width="3" height="18" fill="#fff"/>
<rect x="1300" y="104" width="1" height="26" fill="#000"/>
<rect x="1298" y="104" width="5" height="24" fill="#000"/>
<rect x="1308" y="117" width="1" height="10" fill="#000"/>
<rect x="1306" y="120" width="5" height="7" fill="#000"/>
<rect x="1307" y="121" width="3" height="5" fill="#fff"/>
<rect x="1316" y="120" width="1" height="1" fill="#000"/>
<rect x="1314" y="120" width="5" height="1" fill="#000"/>
</g>
<rect x="1228" y="130" width="95" height="10" fill="#00ff00" shape-rendering="crispEdges"/>
<rect x="1431.5" y="118.5" width="99" height="32" fill="#fff" stroke="#ff0000" stroke-width="1"/>
<rect x="1424" y="133" width="7" height="2" fill="#ff0000" shape-rendering="crispEdges"/>
<rect x="1531" y="133" width="93" height="2" fill="#32cd32" shape-rendering="crispEdges"/>
<text x="1433" y="145" font-size="27" fill="#ff0000" textLength="96" lengthAdjust="spacingAndGlyphs">139.735</text>
<g id="cnbig" fill="none" stroke-linecap="butt" stroke-linejoin="miter">
<path d="M 1378.3 209.6 L 1367.3 218.3 M 1374.3 213.8 H 1390.3 L 1367.3 224.8 M 1375.3 216.3 L 1379.3 219.3 M 1381.8 220.8 L 1366.8 231.3 M 1377.3 225.8 H 1392.3 Q 1386.3 234.8 1365.1 237.8 M 1375.3 228.3 L 1379.3 232.3 M 1408.4 209.8 L 1413.4 213.3 M 1399.7 218.8 V 214.6 H 1425.4 L 1423.4 217.8 M 1409.9 216.8 L 1398.9 223.8 M 1413.4 217.2 L 1424.1 222.8 M 1402.7 225.1 H 1422.1 M 1411.9 225.3 V 236.5 M 1397.7 237.0 H 1426.1 M1429.8,214.3 H1442.4 M1436.1,209.9 L1431.9,222.9 H1444.1 M1438.2,217.9 V238.1 M1430.2,231.3 L1443.7,228 M1444.9,216.2 H1458.8 M1442.8,222.1 H1459.6 M1450.4,209.5 L1446.2,227.6 H1456.3 L1451.7,233 M1444.5,231.3 L1455,237.6 M1462.6,216.7 H1475.5 M1470.2,209.4 V237.4 L1465.3,235.2 M1463.2,226.6 L1475,222.3 M1490.6,210.5 L1477.7,213.7 V228.2 Q1477.7,234 1471.2,237.9 M1477.7,220.7 H1492.2 M1486.3,220.7 V237.9 M1510,209.4 V220.2 M1510,215.3 H1523.5 M1503,219.6 V229.8 M1503,220.4 H1520.8 V229.3 M1503,228.2 H1520.8 M1501.9,232 L1498.2,237.4 M1506.2,232 L1508.9,236.8 M1512.7,231.5 L1515.9,236.3 M1519.2,231.5 L1524,236.8" stroke="#000" stroke-width="2.4" transform="translate(1,1)"/>
<path d="M 1378.3 209.6 L 1367.3 218.3 M 1374.3 213.8 H 1390.3 L 1367.3 224.8 M 1375.3 216.3 L 1379.3 219.3 M 1381.8 220.8 L 1366.8 231.3 M 1377.3 225.8 H 1392.3 Q 1386.3 234.8 1365.1 237.8 M 1375.3 228.3 L 1379.3 232.3 M 1408.4 209.8 L 1413.4 213.3 M 1399.7 218.8 V 214.6 H 1425.4 L 1423.4 217.8 M 1409.9 216.8 L 1398.9 223.8 M 1413.4 217.2 L 1424.1 222.8 M 1402.7 225.1 H 1422.1 M 1411.9 225.3 V 236.5 M 1397.7 237.0 H 1426.1 M1429.8,214.3 H1442.4 M1436.1,209.9 L1431.9,222.9 H1444.1 M1438.2,217.9 V238.1 M1430.2,231.3 L1443.7,228 M1444.9,216.2 H1458.8 M1442.8,222.1 H1459.6 M1450.4,209.5 L1446.2,227.6 H1456.3 L1451.7,233 M1444.5,231.3 L1455,237.6 M1462.6,216.7 H1475.5 M1470.2,209.4 V237.4 L1465.3,235.2 M1463.2,226.6 L1475,222.3 M1490.6,210.5 L1477.7,213.7 V228.2 Q1477.7,234 1471.2,237.9 M1477.7,220.7 H1492.2 M1486.3,220.7 V237.9 M1510,209.4 V220.2 M1510,215.3 H1523.5 M1503,219.6 V229.8 M1503,220.4 H1520.8 V229.3 M1503,228.2 H1520.8 M1501.9,232 L1498.2,237.4 M1506.2,232 L1508.9,236.8 M1512.7,231.5 L1515.9,236.3 M1519.2,231.5 L1524,236.8" stroke="#00ff00" stroke-width="2.4"/>
</g>
<polygon points="1325,31 1334,31 1329.5,36" fill="#c0c0c0"/>
</g>
<defs>
<linearGradient id="gTop" x1="0" y1="0" x2="0" y2="1"><stop offset="0" stop-color="#ff5c5c"/><stop offset="1" stop-color="#e23434"/></linearGradient>
<linearGradient id="gBot" x1="0" y1="0" x2="0" y2="1"><stop offset="0" stop-color="#e23434"/><stop offset="1" stop-color="#ae0000"/></linearGradient>
<linearGradient id="gBtn" x1="0" y1="0" x2="0" y2="1"><stop offset="0" stop-color="#f2f2f2"/><stop offset="1" stop-color="#e0e0e0"/></linearGradient>
</defs>
<g id="hdr">
<polygon points="0,41 7,41 3.5,37" fill="#000"/>
<text transform="translate(11,42) scale(0.894,1)" font-size="10.4" fill="#000" stroke="#000" stroke-width="0.2">GBPJPY-,H4&#160; 140.054 140.070 140.052 140.067</text>
</g>
<g id="panel" shape-rendering="crispEdges">
<!-- sell top -->
<rect x="0" y="50" width="51" height="25" fill="#b80000"/>
<rect x="0" y="51" width="50" height="24" fill="url(#gTop)"/>
<!-- buy top -->
<rect x="166" y="50" width="52" height="25" fill="#b80000"/>
<rect x="167" y="51" width="50" height="24" fill="url(#gTop)"/>
<!-- bottom blocks -->
<rect x="0" y="74" width="108" height="40" fill="#b00000"/>
<rect x="0" y="75" width="107" height="38" fill="url(#gBot)"/>
<rect x="0" y="51" width="50" height="24" fill="url(#gTop)"/>
<rect x="110" y="74" width="108" height="40" fill="#b00000"/>
<rect x="111" y="75" width="106" height="38" fill="url(#gBot)"/>
<rect x="167" y="51" width="50" height="24" fill="url(#gTop)"/>
<!-- underlines -->
<rect x="3" y="73" width="44" height="1" fill="#9a0000"/>
<rect x="3" y="74" width="44" height="1" fill="#f07070"/>
<rect x="170" y="73" width="44" height="1" fill="#9a0000"/>
<rect x="170" y="74" width="44" height="1" fill="#f07070"/>
<!-- lot box -->
<rect x="53" y="50" width="111" height="22" fill="#a9abb0"/>
<rect x="54" y="51" width="109" height="20" fill="#ffffff"/>
<rect x="54" y="51" width="20" height="20" fill="url(#gBtn)"/>
<rect x="74" y="51" width="1" height="20" fill="#a9abb0"/>
<rect x="142" y="51" width="1" height="20" fill="#a9abb0"/>
<rect x="143" y="51" width="20" height="20" fill="url(#gBtn)"/>
</g>
<polygon points="60.5,58.5 66.5,58.5 63.5,62" fill="#000"/>
<polygon points="149.5,62 155.5,62 152.5,58.5" fill="#000"/>
<text x="138.5" y="65" font-size="12" fill="#000" text-anchor="end">1.00</text>
<g fill="#fff">
<text x="11.5" y="66" font-size="12" textLength="25.5" lengthAdjust="spacingAndGlyphs">SELL</text>
<text x="179.5" y="66" font-size="12" textLength="23.5" lengthAdjust="spacingAndGlyphs">BUY</text>
<text x="22.5" y="105" font-size="12.5" font-weight="bold" textLength="20" lengthAdjust="spacingAndGlyphs">140</text>
<text x="132.5" y="105" font-size="12.5" font-weight="bold" textLength="20" lengthAdjust="spacingAndGlyphs">140</text>
<text x="46.5" y="105" font-size="33" textLength="35" lengthAdjust="spacingAndGlyphs">06</text>
<path d="M159.6,86.2 L166.8,81 H169.4 V105 H166.6 V84.6 L160.4,88.6 Z M177.6,86.2 L184.8,81 H187.4 V105 H184.6 V84.6 L178.4,88.6 Z"/>
<text x="86.5" y="88.7" font-size="11.5" font-weight="bold">7</text>
<text x="196.5" y="88.7" font-size="11.5" font-weight="bold">4</text>
</g>

<g font-size="10" fill="#000" letter-spacing="-0.45">
</g>
<g shape-rendering="crispEdges" fill="#000">
<rect x="1625" y="34" width="2" height="1"/>
<rect x="1625" y="67" width="2" height="1"/>
<rect x="1625" y="100" width="2" height="1"/>
<rect x="1625" y="133" width="2" height="1"/>
<rect x="1625" y="166" width="2" height="1"/>
<rect x="1625" y="199" width="2" height="1"/>
<rect x="1625" y="232" width="2" height="1"/>
<rect x="1625" y="265" width="2" height="1"/>
<rect x="1625" y="298" width="2" height="1"/>
<rect x="1625" y="331" width="2" height="1"/>
<rect x="1625" y="364" width="2" height="1"/>
<rect x="1625" y="397" width="2" height="1"/>
<rect x="1625" y="430" width="2" height="1"/>
<rect x="1625" y="463" width="2" height="1"/>
<rect x="1625" y="496" width="2" height="1"/>
<rect x="1625" y="529" width="2" height="1"/>
<rect x="1625" y="562" width="2" height="1"/>
</g>
<g font-size="10.4" fill="#000" stroke="#000" stroke-width="0.2">
<text transform="translate(1630,38) scale(0.886,1)">141.970</text>
<text transform="translate(1630,71) scale(0.886,1)">141.230</text>
<text transform="translate(1630,104) scale(0.886,1)">140.490</text>
<text transform="translate(1630,137) scale(0.886,1)">139.750</text>
<text transform="translate(1630,170) scale(0.886,1)">139.030</text>
<text transform="translate(1630,203) scale(0.886,1)">138.290</text>
<text transform="translate(1630,236) scale(0.886,1)">137.550</text>
<text transform="translate(1630,269) scale(0.886,1)">136.810</text>
<text transform="translate(1630,302) scale(0.886,1)">136.070</text>
<text transform="translate(1630,335) scale(0.886,1)">135.350</text>
<text transform="translate(1630,368) scale(0.886,1)">134.610</text>
<text transform="translate(1630,401) scale(0.886,1)">133.870</text>
<text transform="translate(1630,434) scale(0.886,1)">133.130</text>
<text transform="translate(1630,467) scale(0.886,1)">132.390</text>
<text transform="translate(1630,500) scale(0.886,1)">131.650</text>
<text transform="translate(1630,533) scale(0.886,1)">130.930</text>
<text transform="translate(1630,566) scale(0.886,1)">130.190</text>
</g>
<g shape-rendering="crispEdges">
<rect x="1626" y="65" width="41" height="11" fill="#ff0000"/>
<rect x="1626" y="88" width="41" height="11" fill="#ff4500"/>
<rect x="1626" y="114" width="41" height="11" fill="#000000"/>
<rect x="1626" y="128" width="41" height="11" fill="#32cd32"/>
<rect x="1626" y="153" width="41" height="11" fill="#0000ff"/>
<rect x="1626" y="177" width="41" height="11" fill="#0000ff"/>
</g>
<g font-size="10.4" fill="#fff" stroke="#fff" stroke-width="0.15">
<text transform="translate(1630,74) scale(0.886,1)">141.139</text>
<text transform="translate(1630,97) scale(0.886,1)">140.626</text>
<text transform="translate(1630,123) scale(0.886,1)">140.067</text>
<text transform="translate(1630,137) scale(0.886,1)">139.735</text>
<text transform="translate(1630,162) scale(0.886,1)">139.178</text>
<text transform="translate(1630,186) scale(0.886,1)">138.643</text>
</g>
<g clip-path="url(#cmacd)">
<g shape-rendering="crispEdges" fill="#c0c0c0">
<rect x="4" y="701" width="1" height="20"/>
<rect x="12" y="708" width="1" height="13"/>
<rect x="20" y="711" width="1" height="10"/>
<rect x="36" y="720" width="1" height="9"/>
<rect x="44" y="720" width="1" height="14"/>
<rect x="52" y="720" width="1" height="20"/>
<rect x="60" y="720" width="1" height="22"/>
<rect x="68" y="720" width="1" height="24"/>
<rect x="76" y="720" width="1" height="25"/>
<rect x="84" y="720" width="1" height="20"/>
<rect x="92" y="720" width="1" height="20"/>
<rect x="100" y="720" width="1" height="19"/>
<rect x="108" y="720" width="1" height="21"/>
<rect x="116" y="720" width="1" height="21"/>
<rect x="124" y="720" width="1" height="22"/>
<rect x="132" y="720" width="1" height="28"/>
<rect x="140" y="720" width="1" height="30"/>
<rect x="148" y="720" width="1" height="31"/>
<rect x="156" y="720" width="1" height="33"/>
<rect x="164" y="720" width="1" height="33"/>
<rect x="172" y="720" width="1" height="35"/>
<rect x="180" y="720" width="1" height="36"/>
<rect x="188" y="720" width="1" height="36"/>
<rect x="196" y="720" width="1" height="36"/>
<rect x="204" y="720" width="1" height="36"/>
<rect x="212" y="720" width="1" height="37"/>
<rect x="220" y="720" width="1" height="38"/>
<rect x="228" y="720" width="1" height="36"/>
<rect x="236" y="720" width="1" height="33"/>
<rect x="244" y="720" width="1" height="35"/>
<rect x="252" y="720" width="1" height="34"/>
<rect x="260" y="720" width="1" height="34"/>
<rect x="268" y="720" width="1" height="31"/>
<rect x="276" y="720" width="1" height="31"/>
<rect x="284" y="720" width="1" height="25"/>
<rect x="292" y="720" width="1" height="24"/>
<rect x="300" y="720" width="1" height="23"/>
<rect x="308" y="720" width="1" height="20"/>
<rect x="316" y="720" width="1" height="15"/>
<rect x="324" y="720" width="1" height="14"/>
<rect x="332" y="720" width="1" height="22"/>
<rect x="340" y="720" width="1" height="22"/>
<rect x="348" y="720" width="1" height="23"/>
<rect x="356" y="720" width="1" height="21"/>
<rect x="364" y="720" width="1" height="25"/>
<rect x="372" y="720" width="1" height="27"/>
<rect x="380" y="720" width="1" height="29"/>
<rect x="388" y="720" width="1" height="31"/>
<rect x="396" y="720" width="1" height="33"/>
<rect x="404" y="720" width="1" height="34"/>
<rect x="412" y="720" width="1" height="35"/>
<rect x="420" y="720" width="1" height="36"/>
<rect x="428" y="720" width="1" height="32"/>
<rect x="436" y="720" width="1" height="32"/>
<rect x="444" y="720" width="1" height="31"/>
<rect x="452" y="720" width="1" height="31"/>
<rect x="460" y="720" width="1" height="31"/>
<rect x="468" y="720" width="1" height="31"/>
<rect x="476" y="720" width="1" height="32"/>
<rect x="484" y="720" width="1" height="29"/>
<rect x="492" y="720" width="1" height="28"/>
<rect x="500" y="720" width="1" height="28"/>
<rect x="508" y="720" width="1" height="28"/>
<rect x="516" y="720" width="1" height="27"/>
<rect x="524" y="720" width="1" height="24"/>
<rect x="532" y="720" width="1" height="21"/>
<rect x="540" y="720" width="1" height="19"/>
<rect x="548" y="720" width="1" height="16"/>
<rect x="556" y="720" width="1" height="16"/>
<rect x="564" y="720" width="1" height="25"/>
<rect x="572" y="720" width="1" height="30"/>
<rect x="580" y="720" width="1" height="33"/>
<rect x="588" y="720" width="1" height="36"/>
<rect x="596" y="720" width="1" height="36"/>
<rect x="604" y="720" width="1" height="35"/>
<rect x="612" y="720" width="1" height="31"/>
<rect x="620" y="720" width="1" height="29"/>
<rect x="628" y="720" width="1" height="27"/>
<rect x="636" y="720" width="1" height="27"/>
<rect x="644" y="720" width="1" height="23"/>
<rect x="652" y="720" width="1" height="20"/>
<rect x="660" y="720" width="1" height="17"/>
<rect x="668" y="717" width="1" height="4"/>
<rect x="676" y="695" width="1" height="26"/>
<rect x="684" y="681" width="1" height="40"/>
<rect x="692" y="668" width="1" height="53"/>
<rect x="700" y="657" width="1" height="64"/>
<rect x="708" y="629" width="1" height="92"/>
<rect x="716" y="604" width="1" height="117"/>
<rect x="724" y="587" width="1" height="134"/>
<rect x="732" y="580" width="1" height="141"/>
<rect x="740" y="579" width="1" height="142"/>
<rect x="748" y="584" width="1" height="137"/>
<rect x="756" y="590" width="1" height="131"/>
<rect x="764" y="591" width="1" height="130"/>
<rect x="772" y="597" width="1" height="124"/>
<rect x="780" y="598" width="1" height="123"/>
<rect x="788" y="600" width="1" height="121"/>
<rect x="796" y="601" width="1" height="120"/>
<rect x="804" y="604" width="1" height="117"/>
<rect x="812" y="596" width="1" height="125"/>
<rect x="820" y="583" width="1" height="138"/>
<rect x="828" y="579" width="1" height="142"/>
<rect x="836" y="579" width="1" height="142"/>
<rect x="844" y="585" width="1" height="136"/>
<rect x="852" y="587" width="1" height="134"/>
<rect x="860" y="581" width="1" height="140"/>
<rect x="868" y="580" width="1" height="141"/>
<rect x="876" y="582" width="1" height="139"/>
<rect x="884" y="583" width="1" height="138"/>
<rect x="892" y="589" width="1" height="132"/>
<rect x="900" y="590" width="1" height="131"/>
<rect x="908" y="595" width="1" height="126"/>
<rect x="916" y="597" width="1" height="124"/>
<rect x="924" y="601" width="1" height="120"/>
<rect x="932" y="607" width="1" height="114"/>
<rect x="940" y="611" width="1" height="110"/>
<rect x="948" y="614" width="1" height="107"/>
<rect x="956" y="618" width="1" height="103"/>
<rect x="964" y="618" width="1" height="103"/>
<rect x="972" y="624" width="1" height="97"/>
<rect x="980" y="627" width="1" height="94"/>
<rect x="988" y="628" width="1" height="93"/>
<rect x="996" y="624" width="1" height="97"/>
<rect x="1004" y="624" width="1" height="97"/>
<rect x="1012" y="626" width="1" height="95"/>
<rect x="1020" y="629" width="1" height="92"/>
<rect x="1028" y="631" width="1" height="90"/>
<rect x="1036" y="637" width="1" height="84"/>
<rect x="1044" y="644" width="1" height="77"/>
<rect x="1052" y="649" width="1" height="72"/>
<rect x="1060" y="659" width="1" height="62"/>
<rect x="1068" y="668" width="1" height="53"/>
<rect x="1076" y="681" width="1" height="40"/>
<rect x="1084" y="690" width="1" height="31"/>
<rect x="1092" y="696" width="1" height="25"/>
<rect x="1100" y="697" width="1" height="24"/>
<rect x="1108" y="696" width="1" height="25"/>
<rect x="1116" y="695" width="1" height="26"/>
<rect x="1124" y="695" width="1" height="26"/>
<rect x="1132" y="696" width="1" height="25"/>
<rect x="1140" y="698" width="1" height="23"/>
<rect x="1148" y="708" width="1" height="13"/>
<rect x="1156" y="712" width="1" height="9"/>
<rect x="1164" y="716" width="1" height="5"/>
<rect x="1172" y="719" width="1" height="2"/>
<rect x="1188" y="720" width="1" height="6"/>
<rect x="1196" y="720" width="1" height="6"/>
<rect x="1204" y="720" width="1" height="7"/>
<rect x="1212" y="720" width="1" height="8"/>
<rect x="1220" y="720" width="1" height="8"/>
<rect x="1228" y="720" width="1" height="7"/>
<rect x="1236" y="720" width="1" height="7"/>
<rect x="1252" y="718" width="1" height="3"/>
<rect x="1260" y="715" width="1" height="6"/>
<rect x="1268" y="714" width="1" height="7"/>
<rect x="1276" y="714" width="1" height="7"/>
<rect x="1284" y="714" width="1" height="7"/>
<rect x="1292" y="709" width="1" height="12"/>
<rect x="1300" y="710" width="1" height="11"/>
<rect x="1308" y="710" width="1" height="11"/>
<rect x="1316" y="710" width="1" height="11"/>
</g>
<polyline points="0.0,688.3 2.1,688.7 8.6,690.0 21.5,694.1 34.3,700.1 42.9,706.6 51.5,713.0 60.1,720.1 70.8,725.9 81.5,731.2 92.3,737.2 107.3,740.2 124.5,741.5 139.5,743.0 165.2,746.3 182.4,750.1 203.9,753.1 221.0,755.3 257.5,755.3 279.0,752.7 300.4,749.5 313.3,745.2 330.0,742.0 347.5,740.9 366.8,740.2 379.6,742.4 396.8,745.2 411.8,748.4 429.0,751.0 446.2,752.3 463.3,751.6 480.5,750.1 508.4,749.5 519.1,748.0 540.6,744.5 557.8,742.4 583.5,742.4 596.4,745.2 622.1,749.5 637.2,751.6 652.0,748.4 667.0,742.4 679.9,729.1 692.8,718.4 707.8,694.8 716.4,681.9 725.0,662.6 733.5,643.3 742.1,626.1 752.9,612.1 763.6,598.2 774.3,591.3 791.5,589.2 802.2,591.8 810.8,595.0 828.0,593.5 840.8,590.7 860.2,587.5 866.6,585.3 883.8,581.5 894.5,582.7 905.2,584.9 926.7,588.5 939.5,593.9 956.7,601.4 969.6,606.8 982.0,612.1 988.7,615.8 999.5,619.6 1012.3,622.2 1027.3,625.0 1042.4,628.6 1055.2,632.1 1063.8,636.8 1076.7,647.5 1089.5,658.2 1098.1,665.7 1111.0,676.5 1123.9,686.1 1138.9,693.6 1151.7,696.4 1171.0,703.3 1192.5,710.8 1209.7,719.4 1224.7,722.6 1244.0,725.2 1263.3,723.0 1274.0,720.0 1291.2,717.9 1299.7,715.1 1312.6,711.9 1316.0,710.5" fill="none" stroke="#ff0000" stroke-width="1" stroke-dasharray="2.5 1.5" shape-rendering="crispEdges"/>
</g>
<text transform="translate(1,580) scale(0.906,1)" font-size="10.4" fill="#000" stroke="#000" stroke-width="0.2">MACD(12,26,9) 0.1088 0.0793</text>
<g shape-rendering="crispEdges" fill="#000">
<rect x="1625" y="569" width="2" height="1"/>
<rect x="1625" y="720" width="2" height="1"/>
<rect x="1625" y="767" width="2" height="1"/>
</g>
<g font-size="10.4" fill="#000" stroke="#000" stroke-width="0.2">
<text transform="translate(1628,578) scale(0.886,1)">1.5153</text>
<text transform="translate(1628,724) scale(0.886,1)">0.00</text>
<text transform="translate(1628,765) scale(0.886,1)">-0.4789</text>
</g>
<g clip-path="url(#crsi)">
<g shape-rendering="crispEdges" stroke="#c0c0c0" stroke-width="1" stroke-dasharray="3 3">
<line x1="3" y1="803.5" x2="1624" y2="803.5"/>
<line x1="3" y1="850.5" x2="1624" y2="850.5"/>
<line x1="3" y1="906.5" x2="1624" y2="906.5"/>
</g>
<polyline points="-4.0,850.0 4.5,859.3 12.5,860.4 20.5,854.5 28.5,870.3 36.5,868.1 44.5,870.3 52.5,869.1 60.5,864.4 68.5,867.2 76.5,866.2 84.5,849.4 92.5,857.9 100.5,860.4 108.5,859.3 116.5,860.4 124.5,865.8 132.5,875.1 140.5,867.2 148.5,869.1 156.5,870.3 164.5,866.4 172.5,872.1 180.5,872.3 188.5,873.1 196.5,872.3 204.5,874.3 212.5,875.1 220.5,883.0 228.5,860.2 236.5,860.2 244.5,872.3 252.5,866.4 260.5,867.2 268.5,865.2 276.5,860.4 284.5,854.5 292.5,856.5 300.5,860.2 308.5,853.3 316.5,847.4 324.5,855.9 332.5,878.2 340.5,860.2 348.5,861.2 356.5,860.2 364.5,867.2 372.5,867.2 380.5,870.3 388.5,872.1 396.5,872.1 404.5,872.1 412.5,874.3 420.5,875.3 428.5,856.3 436.5,864.2 444.5,866.2 452.5,867.2 460.5,870.3 468.5,868.1 476.5,871.7 484.5,863.2 492.5,866.4 500.5,866.4 508.5,872.1 516.5,865.8 524.5,854.5 532.5,854.5 540.5,858.3 548.5,850.4 556.5,859.9 564.5,883.2 572.5,880.2 580.5,873.3 588.5,876.6 596.5,868.7 604.5,864.8 612.5,857.3 620.5,859.3 628.5,859.3 636.5,866.4 644.5,851.0 652.5,851.0 660.5,851.0 668.5,813.8 676.5,807.1 684.5,815.0 692.5,813.0 700.5,812.1 708.5,797.1 716.5,795.3 724.5,800.6 732.5,810.1 740.5,816.4 748.5,825.3 756.5,828.3 764.5,822.3 772.5,828.3 780.5,824.3 788.5,824.3 796.5,821.3 804.5,824.3 812.5,811.1 820.5,809.5 828.5,814.0 836.5,817.4 844.5,827.3 852.5,822.9 860.5,815.4 868.5,819.4 876.5,821.3 884.5,820.4 892.5,826.3 900.5,821.7 908.5,825.3 916.5,822.3 924.5,824.3 932.5,828.3 940.5,824.3 948.5,823.3 956.5,824.3 964.5,819.4 972.5,830.2 980.5,826.6 988.5,822.7 996.5,817.4 1004.5,821.0 1012.5,824.4 1020.5,824.4 1028.5,822.2 1036.5,834.3 1044.5,835.3 1052.5,833.2 1060.5,847.5 1068.5,850.0 1076.5,860.2 1084.5,856.0 1092.5,852.2 1100.5,845.8 1108.5,839.5 1116.5,839.5 1124.5,840.6 1132.5,842.7 1140.5,844.8 1148.5,862.7 1156.5,855.3 1164.5,857.4 1172.5,855.3 1180.5,856.4 1188.5,861.0 1196.5,853.6 1204.5,856.4 1212.5,854.7 1220.5,856.4 1228.5,848.6 1236.5,853.2 1244.5,839.1 1252.5,841.6 1260.5,841.6 1268.5,844.8 1276.5,848.4 1284.5,844.2 1292.5,834.3 1300.5,848.4 1308.5,845.2 1316.5,844.4" fill="none" stroke="#1e90ff" stroke-width="1" shape-rendering="crispEdges"/>
</g>
<text transform="translate(1,783) scale(0.894,1)" font-size="10.4" fill="#000" stroke="#000" stroke-width="0.2">RSI(14) 53.8391</text>
<g shape-rendering="crispEdges" fill="#000">
<rect x="1625" y="772" width="2" height="1"/>
<rect x="1625" y="803" width="2" height="1"/>
<rect x="1625" y="850" width="2" height="1"/>
<rect x="1625" y="906" width="2" height="1"/>
<rect x="1625" y="929" width="2" height="1"/>
</g>
<g font-size="10.4" fill="#000" stroke="#000" stroke-width="0.2">
<text transform="translate(1628,781) scale(0.886,1)">100</text>
<text transform="translate(1628,807) scale(0.886,1)">80</text>
<text transform="translate(1628,854) scale(0.886,1)">50</text>
<text transform="translate(1628,910) scale(0.886,1)">15</text>
<text transform="translate(1628,927) scale(0.886,1)">0</text>
</g>
<g shape-rendering="crispEdges" fill="#000">
<rect x="60" y="931" width="1" height="3"/>
<rect x="124" y="931" width="1" height="3"/>
<rect x="188" y="931" width="1" height="3"/>
<rect x="252" y="931" width="1" height="3"/>
<rect x="316" y="931" width="1" height="3"/>
<rect x="380" y="931" width="1" height="3"/>
<rect x="444" y="931" width="1" height="3"/>
<rect x="508" y="931" width="1" height="3"/>
<rect x="572" y="931" width="1" height="3"/>
<rect x="636" y="931" width="1" height="3"/>
<rect x="700" y="931" width="1" height="3"/>
<rect x="764" y="931" width="1" height="3"/>
<rect x="828" y="931" width="1" height="3"/>
<rect x="892" y="931" width="1" height="3"/>
<rect x="956" y="931" width="1" height="3"/>
<rect x="1020" y="931" width="1" height="3"/>
<rect x="1084" y="931" width="1" height="3"/>
<rect x="1148" y="931" width="1" height="3"/>
<rect x="1212" y="931" width="1" height="3"/>
<rect x="1276" y="931" width="1" height="3"/>
</g>
<g font-size="10.4" fill="#000" stroke="#000" stroke-width="0.2">
<text transform="translate(-6,943) scale(0.905,1)">20 Sep 2019</text>
<text transform="translate(59,943) scale(0.905,1)">23 Sep 20:00</text>
<text transform="translate(123,943) scale(0.905,1)">25 Sep 04:00</text>
<text transform="translate(187,943) scale(0.905,1)">26 Sep 12:00</text>
<text transform="translate(251,943) scale(0.905,1)">29 Sep 23:00</text>
<text transform="translate(315,943) scale(0.905,1)">1 Oct 04:00</text>
<text transform="translate(379,943) scale(0.905,1)">2 Oct 12:00</text>
<text transform="translate(443,943) scale(0.905,1)">3 Oct 20:00</text>
<text transform="translate(507,943) scale(0.905,1)">7 Oct 04:00</text>
<text transform="translate(571,943) scale(0.905,1)">8 Oct 12:00</text>
<text transform="translate(635,943) scale(0.905,1)">9 Oct 20:00</text>
<text transform="translate(699,943) scale(0.905,1)">11 Oct 04:00</text>
<text transform="translate(763,943) scale(0.905,1)">14 Oct 12:00</text>
<text transform="translate(827,943) scale(0.905,1)">15 Oct 20:00</text>
<text transform="translate(891,943) scale(0.905,1)">17 Oct 04:00</text>
<text transform="translate(955,943) scale(0.905,1)">18 Oct 12:00</text>
<text transform="translate(1019,943) scale(0.905,1)">21 Oct 20:00</text>
<text transform="translate(1083,943) scale(0.905,1)">23 Oct 04:00</text>
<text transform="translate(1147,943) scale(0.905,1)">24 Oct 12:00</text>
<text transform="translate(1211,943) scale(0.905,1)">27 Oct 23:00</text>
<text transform="translate(1275,943) scale(0.905,1)">29 Oct 04:00</text>
</g>
</svg></body></html>
